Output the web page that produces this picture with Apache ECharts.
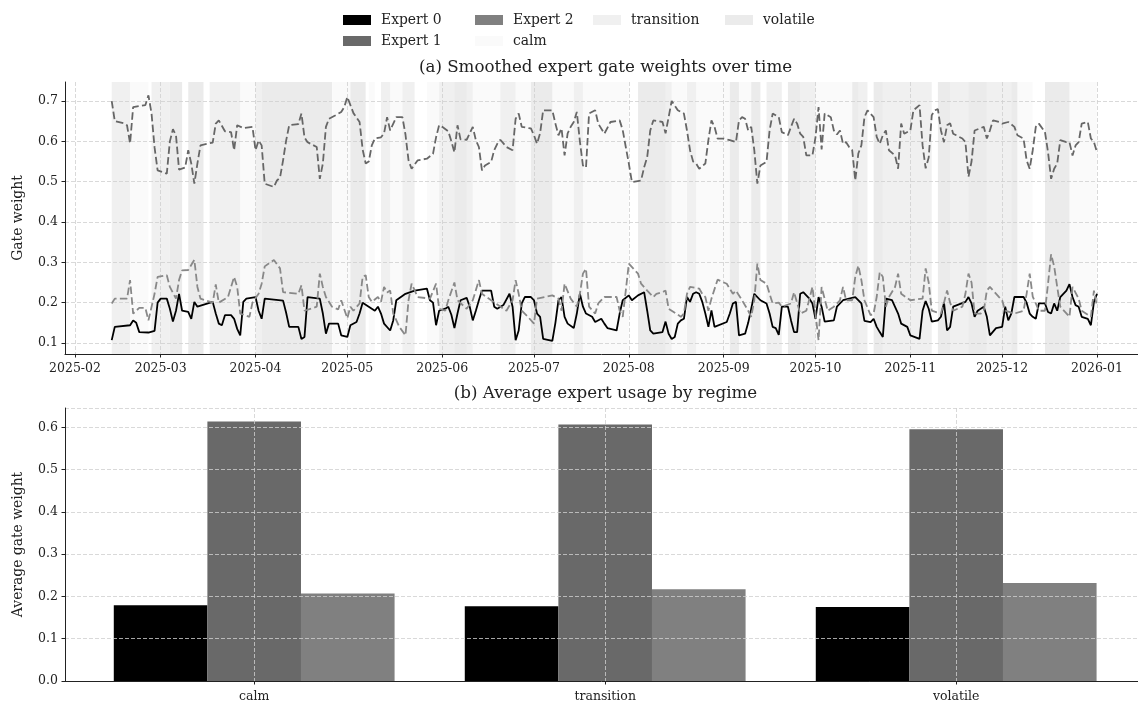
<!DOCTYPE html>
<html><head><meta charset="utf-8">
<script src="https://cdn.jsdelivr.net/npm/echarts@6/dist/echarts.min.js"></script>
<style>html,body{margin:0;padding:0;background:#fff}#c{width:1138px;height:704px}</style>
</head><body><div id="c"></div>
<script>
// ---------- data ----------
const monthTicks = ['2025-02-01','2025-03-01','2025-04-01','2025-05-01','2025-06-01','2025-07-01','2025-08-01','2025-09-01','2025-10-01','2025-11-01','2025-12-01','2026-01-01'];
const gateTicks = [0.1,0.2,0.3,0.4,0.5,0.6,0.7];
const regimes = ['calm','transition','volatile'];
const experts = ['Expert 0','Expert 1','Expert 2'];

// average usage per regime (calm, transition, volatile)
const usageE0 = [0.179, 0.177, 0.175];
const usageE1 = [0.614, 0.607, 0.596];
const usageE2 = [0.207, 0.217, 0.232];

// smoothed gate weights (MM-DD in 2025, 01-01 is 2026)
const e0 = [['02-13',0.107],['02-14',0.14],['02-19',0.144],['02-20',0.156],['02-21',0.15],['02-22',0.127],['02-25',0.126],['02-27',0.13],['02-28',0.20],['03-01',0.21],['03-03',0.21],['03-04',0.185],['03-05',0.153],['03-06',0.18],['03-07',0.222],['03-08',0.18],['03-10',0.177],['03-11',0.16],['03-12',0.202],['03-13',0.19],['03-18',0.202],['03-19',0.173],['03-20',0.148],['03-21',0.144],['03-22',0.169],['03-24',0.169],['03-25',0.16],['03-26',0.135],['03-27',0.119],['03-28',0.202],['03-29',0.21],['04-01',0.214],['04-02',0.18],['04-03',0.16],['04-04',0.21],['04-10',0.205],['04-11',0.175],['04-12',0.14],['04-15',0.14],['04-16',0.11],['04-17',0.115],['04-18',0.214],['04-22',0.21],['04-23',0.173],['04-24',0.123],['04-25',0.148],['04-28',0.148],['04-29',0.119],['05-01',0.115],['05-02',0.144],['05-04',0.152],['05-05',0.173],['05-06',0.2],['05-08',0.19],['05-10',0.18],['05-11',0.19],['05-12',0.173],['05-13',0.148],['05-15',0.131],['05-16',0.156],['05-17',0.206],['05-20',0.222],['05-23',0.23],['05-27',0.235],['05-28',0.206],['05-29',0.2],['05-30',0.144],['05-31',0.18],['06-02',0.185],['06-03',0.19],['06-04',0.17],['06-05',0.137],['06-06',0.173],['06-07',0.206],['06-09',0.212],['06-10',0.19],['06-11',0.156],['06-12',0.18],['06-13',0.206],['06-14',0.23],['06-17',0.23],['06-18',0.19],['06-19',0.185],['06-21',0.194],['06-23',0.222],['06-24',0.19],['06-25',0.107],['06-26',0.131],['06-27',0.198],['06-28',0.214],['06-30',0.214],['07-01',0.206],['07-02',0.173],['07-03',0.165],['07-04',0.11],['07-07',0.105],['07-08',0.15],['07-09',0.206],['07-10',0.214],['07-11',0.165],['07-12',0.148],['07-14',0.137],['07-15',0.173],['07-16',0.222],['07-17',0.19],['07-18',0.173],['07-20',0.165],['07-21',0.152],['07-23',0.16],['07-24',0.148],['07-25',0.137],['07-28',0.131],['07-29',0.173],['07-30',0.206],['08-01',0.218],['08-02',0.206],['08-04',0.218],['08-06',0.226],['08-07',0.18],['08-08',0.131],['08-09',0.123],['08-12',0.127],['08-13',0.153],['08-14',0.123],['08-15',0.11],['08-16',0.115],['08-17',0.148],['08-18',0.156],['08-19',0.16],['08-20',0.214],['08-21',0.202],['08-22',0.222],['08-23',0.226],['08-24',0.222],['08-25',0.202],['08-26',0.173],['08-27',0.14],['08-28',0.181],['08-29',0.14],['09-02',0.152],['09-03',0.173],['09-04',0.198],['09-05',0.202],['09-06',0.119],['09-08',0.123],['09-09',0.15],['09-10',0.185],['09-11',0.222],['09-13',0.206],['09-15',0.198],['09-16',0.173],['09-17',0.14],['09-18',0.137],['09-19',0.12],['09-20',0.19],['09-22',0.19],['09-23',0.156],['09-24',0.127],['09-25',0.127],['09-26',0.222],['09-27',0.226],['09-28',0.218],['09-29',0.21],['09-30',0.198],['10-01',0.16],['10-02',0.214],['10-03',0.19],['10-04',0.153],['10-07',0.156],['10-08',0.19],['10-10',0.206],['10-14',0.214],['10-16',0.198],['10-17',0.155],['10-19',0.152],['10-20',0.16],['10-21',0.14],['10-22',0.127],['10-23',0.115],['10-24',0.21],['10-26',0.206],['10-28',0.173],['10-29',0.148],['10-31',0.14],['11-01',0.119],['11-04',0.11],['11-05',0.18],['11-06',0.204],['11-07',0.185],['11-08',0.153],['11-10',0.156],['11-11',0.165],['11-12',0.2],['11-13',0.131],['11-14',0.14],['11-15',0.19],['11-19',0.202],['11-20',0.214],['11-21',0.198],['11-22',0.165],['11-23',0.18],['11-25',0.19],['11-26',0.165],['11-27',0.119],['11-29',0.137],['12-01',0.14],['12-02',0.19],['12-03',0.156],['12-04',0.173],['12-05',0.214],['12-08',0.214],['12-09',0.2],['12-10',0.173],['12-11',0.165],['12-12',0.16],['12-13',0.198],['12-15',0.198],['12-16',0.177],['12-17',0.173],['12-18',0.198],['12-19',0.18],['12-20',0.214],['12-21',0.222],['12-22',0.23],['12-23',0.246],['12-24',0.214],['12-25',0.194],['12-26',0.19],['12-27',0.165],['12-29',0.16],['12-30',0.144],['12-31',0.202],['01-01',0.222]];

const e1 = [['02-13',0.70],['02-14',0.65],['02-17',0.645],['02-18',0.64],['02-19',0.595],['02-20',0.685],['02-24',0.69],['02-25',0.714],['02-26',0.67],['02-27',0.585],['02-28',0.528],['03-03',0.52],['03-04',0.60],['03-05',0.63],['03-06',0.615],['03-07',0.53],['03-09',0.535],['03-10',0.578],['03-11',0.545],['03-12',0.495],['03-13',0.545],['03-14',0.59],['03-18',0.597],['03-19',0.644],['03-20',0.652],['03-22',0.625],['03-24',0.623],['03-25',0.578],['03-26',0.64],['03-28',0.633],['03-31',0.636],['04-01',0.578],['04-02',0.602],['04-03',0.59],['04-04',0.495],['04-07',0.487],['04-08',0.503],['04-09',0.51],['04-10',0.553],['04-11',0.602],['04-12',0.64],['04-15',0.643],['04-16',0.669],['04-17',0.61],['04-18',0.598],['04-21',0.586],['04-22',0.507],['04-23',0.545],['04-24',0.636],['04-25',0.656],['04-27',0.664],['04-29',0.673],['04-30',0.685],['05-01',0.71],['05-03',0.67],['05-05',0.648],['05-06',0.58],['05-07',0.545],['05-08',0.55],['05-09',0.59],['05-10',0.607],['05-12',0.61],['05-13',0.62],['05-14',0.66],['05-15',0.627],['05-17',0.66],['05-19',0.66],['05-20',0.617],['05-21',0.553],['05-22',0.532],['05-24',0.553],['05-27',0.557],['05-29',0.569],['05-30',0.61],['05-31',0.64],['06-01',0.636],['06-03',0.625],['06-04',0.60],['06-05',0.573],['06-06',0.64],['06-07',0.605],['06-09',0.604],['06-11',0.636],['06-12',0.603],['06-13',0.586],['06-14',0.528],['06-15',0.54],['06-17',0.549],['06-18',0.578],['06-19',0.594],['06-20',0.604],['06-22',0.586],['06-24',0.578],['06-25',0.656],['06-26',0.669],['06-27',0.636],['06-30',0.632],['07-01',0.615],['07-02',0.594],['07-03',0.62],['07-04',0.677],['07-07',0.677],['07-08',0.644],['07-09',0.615],['07-10',0.632],['07-11',0.565],['07-12',0.62],['07-13',0.636],['07-14',0.648],['07-15',0.673],['07-16',0.60],['07-17',0.54],['07-18',0.535],['07-19',0.669],['07-21',0.677],['07-22',0.644],['07-24',0.619],['07-26',0.648],['07-29',0.652],['07-30',0.628],['07-31',0.586],['08-01',0.545],['08-02',0.499],['08-05',0.503],['08-06',0.536],['08-07',0.561],['08-08',0.627],['08-09',0.652],['08-12',0.648],['08-13',0.62],['08-14',0.66],['08-15',0.70],['08-17',0.677],['08-19',0.669],['08-20',0.627],['08-21',0.578],['08-22',0.55],['08-23',0.545],['08-24',0.532],['08-26',0.545],['08-27',0.603],['08-28',0.652],['08-29',0.636],['08-30',0.607],['09-01',0.607],['09-03',0.603],['09-05',0.598],['09-06',0.652],['09-07',0.66],['09-08',0.656],['09-09',0.627],['09-10',0.636],['09-11',0.578],['09-12',0.495],['09-13',0.54],['09-15',0.549],['09-16',0.627],['09-17',0.669],['09-19',0.66],['09-20',0.623],['09-22',0.615],['09-23',0.636],['09-24',0.656],['09-25',0.644],['09-26',0.619],['09-27',0.611],['09-28',0.565],['09-30',0.565],['10-01',0.61],['10-02',0.685],['10-03',0.58],['10-04',0.669],['10-06',0.66],['10-07',0.627],['10-08',0.617],['10-09',0.627],['10-10',0.594],['10-11',0.598],['10-12',0.586],['10-13',0.578],['10-14',0.503],['10-15',0.57],['10-16',0.59],['10-17',0.66],['10-18',0.677],['10-20',0.66],['10-21',0.611],['10-22',0.594],['10-23',0.615],['10-24',0.627],['10-25',0.578],['10-27',0.565],['10-28',0.532],['10-29',0.644],['10-30',0.619],['11-01',0.627],['11-02',0.677],['11-04',0.69],['11-05',0.59],['11-06',0.533],['11-07',0.56],['11-08',0.665],['11-09',0.677],['11-10',0.68],['11-11',0.627],['11-12',0.598],['11-13',0.64],['11-14',0.645],['11-15',0.619],['11-16',0.615],['11-18',0.607],['11-19',0.598],['11-20',0.512],['11-21',0.55],['11-22',0.627],['11-25',0.636],['11-26',0.607],['11-27',0.627],['11-28',0.652],['11-30',0.648],['12-01',0.644],['12-03',0.648],['12-05',0.636],['12-06',0.615],['12-08',0.607],['12-09',0.553],['12-10',0.532],['12-11',0.578],['12-12',0.636],['12-13',0.644],['12-15',0.623],['12-16',0.573],['12-17',0.507],['12-18',0.532],['12-19',0.545],['12-20',0.603],['12-22',0.598],['12-23',0.598],['12-24',0.565],['12-25',0.59],['12-26',0.598],['12-27',0.644],['12-29',0.648],['12-30',0.607],['12-31',0.598],['01-01',0.573]];

const e2 = [['02-13',0.198],['02-14',0.21],['02-18',0.21],['02-19',0.256],['02-20',0.173],['02-22',0.187],['02-24',0.187],['02-25',0.156],['02-27',0.222],['02-28',0.264],['03-03',0.268],['03-04',0.239],['03-06',0.21],['03-07',0.256],['03-08',0.28],['03-10',0.281],['03-12',0.306],['03-13',0.239],['03-14',0.21],['03-18',0.2],['03-19',0.245],['03-20',0.2],['03-23',0.214],['03-25',0.264],['03-26',0.239],['03-27',0.173],['03-30',0.165],['03-31',0.2],['04-02',0.222],['04-03',0.247],['04-04',0.29],['04-07',0.306],['04-09',0.285],['04-10',0.226],['04-15',0.222],['04-16',0.243],['04-17',0.18],['04-21',0.19],['04-22',0.272],['04-23',0.239],['04-24',0.214],['04-26',0.19],['04-28',0.183],['04-29',0.206],['05-01',0.161],['05-02',0.19],['05-03',0.18],['05-05',0.198],['05-06',0.264],['05-07',0.268],['05-08',0.214],['05-09',0.202],['05-11',0.214],['05-12',0.202],['05-13',0.239],['05-14',0.225],['05-15',0.23],['05-16',0.173],['05-18',0.14],['05-20',0.119],['05-21',0.206],['05-22',0.247],['05-24',0.214],['05-28',0.21],['05-30',0.247],['05-31',0.185],['06-02',0.18],['06-03',0.206],['06-05',0.25],['06-06',0.206],['06-09',0.185],['06-11',0.206],['06-13',0.256],['06-14',0.222],['06-17',0.206],['06-22',0.18],['06-24',0.206],['06-25',0.256],['06-26',0.222],['06-27',0.18],['06-29',0.165],['07-01',0.148],['07-02',0.21],['07-07',0.218],['07-09',0.21],['07-10',0.18],['07-11',0.247],['07-13',0.21],['07-15',0.19],['07-16',0.222],['07-17',0.272],['07-18',0.284],['07-19',0.19],['07-21',0.173],['07-22',0.198],['07-24',0.214],['07-28',0.214],['07-29',0.18],['07-30',0.165],['07-31',0.23],['08-01',0.297],['08-03',0.28],['08-04',0.272],['08-05',0.247],['08-07',0.23],['08-09',0.214],['08-10',0.222],['08-12',0.226],['08-13',0.23],['08-14',0.185],['08-17',0.17],['08-18',0.165],['08-19',0.173],['08-20',0.222],['08-21',0.239],['08-24',0.235],['08-25',0.222],['08-26',0.214],['08-27',0.18],['08-28',0.21],['08-30',0.257],['09-02',0.247],['09-04',0.222],['09-05',0.23],['09-07',0.206],['09-09',0.18],['09-10',0.165],['09-11',0.206],['09-12',0.297],['09-13',0.256],['09-15',0.247],['09-16',0.222],['09-17',0.198],['09-19',0.2],['09-20',0.19],['09-23',0.198],['09-24',0.226],['09-26',0.173],['09-28',0.18],['09-30',0.239],['10-01',0.173],['10-02',0.107],['10-03',0.239],['10-05',0.18],['10-07',0.19],['10-09',0.206],['10-10',0.239],['10-11',0.206],['10-13',0.206],['10-14',0.264],['10-15',0.292],['10-16',0.256],['10-17',0.206],['10-19',0.169],['10-20',0.173],['10-21',0.214],['10-22',0.276],['10-23',0.264],['10-24',0.19],['10-25',0.214],['10-27',0.239],['10-28',0.272],['10-29',0.222],['11-01',0.206],['11-05',0.21],['11-06',0.285],['11-07',0.25],['11-08',0.18],['11-11',0.173],['11-12',0.2],['11-13',0.23],['11-14',0.2],['11-15',0.18],['11-18',0.19],['11-19',0.222],['11-20',0.272],['11-21',0.25],['11-22',0.173],['11-24',0.173],['11-25',0.18],['11-26',0.23],['11-27',0.239],['11-30',0.214],['12-01',0.206],['12-02',0.18],['12-05',0.173],['12-08',0.18],['12-09',0.222],['12-10',0.272],['12-11',0.215],['12-12',0.198],['12-13',0.18],['12-15',0.18],['12-16',0.247],['12-17',0.32],['12-18',0.29],['12-19',0.239],['12-20',0.19],['12-23',0.165],['12-24',0.239],['12-26',0.21],['12-27',0.18],['12-30',0.165],['12-31',0.23],['01-01',0.19]];

// regime runs
const runStart = ['02-13','02-19','02-26','03-04','03-10','03-17','03-27','04-01','04-03','04-26','05-02','05-08','05-12','05-15','05-19','05-27','05-31','06-05','06-09','06-11','06-20','06-25','06-30','07-07','07-14','07-17','08-04','08-13','08-15','08-20','08-23','09-03','09-06','09-10','09-15','09-22','09-26','10-01','10-13','10-15','10-20','10-23','11-10','11-14','11-20','11-26','12-04','12-06','12-15','12-23'];
const runEnd = ['02-19','02-25','03-04','03-08','03-15','03-27','04-01','04-03','04-26','05-02','05-07','05-10','05-15','05-19','05-23','05-31','06-05','06-09','06-11','06-20','06-25','06-30','07-07','07-14','07-17','08-01','08-13','08-15','08-20','08-23','09-03','09-06','09-10','09-13','09-20','09-26','10-01','10-13','10-15','10-18','10-23','11-08','11-14','11-20','11-26','12-04','12-06','12-11','12-23','01-01'];
const runRegime = ['transition','calm','transition','volatile','volatile','transition','calm','transition','volatile','calm','volatile','calm','transition','calm','transition','calm','transition','volatile','transition','calm','transition','calm','volatile','calm','transition','calm','volatile','transition','calm','transition','calm','volatile','calm','volatile','transition','volatile','transition','calm','volatile','transition','volatile','transition','volatile','transition','volatile','transition','volatile','calm','volatile','calm'];

// ---------- styling ----------
const FONT = 'DejaVu Serif';
const TXT = '#222';
const DAY = 86400000;
const tt = s => { const f = s.length === 5 ? (s.startsWith('01-') ? '2026-' : '2025-') + s : s; const p = f.split('-').map(Number); return Date.UTC(p[0], p[1]-1, p[2]); };
const expertColor = ['#000000', '#666666', '#888888'];
const barColor = ['#000000', '#696969', '#808080'];
const regimeFill = {calm:'rgba(0,0,0,0.02)', transition:'rgba(0,0,0,0.06)', volatile:'rgba(0,0,0,0.08)'};
const regimeSwatch = {calm:'#fafafa', transition:'#f0f0f0', volatile:'#ebebeb'};
const gridLine = {show:true, lineStyle:{type:[4,2], color:'#cfcfcf', width:0.8}};
const axLine = {show:true, onZero:false, lineStyle:{color:TXT, width:1}};
const axTick = vals => ({show:true, length:3.5, customValues: vals, lineStyle:{color:TXT, width:1}});
const lab = {fontFamily:FONT, fontSize:12.5, color:TXT};

const legendItem = n => ({name:n, icon:'rect', itemStyle:{color: n in regimeSwatch ? regimeSwatch[n] : barColor[experts.indexOf(n)], borderWidth:0}});
const legendCommon = {orient:'vertical', top:13, padding:0, itemWidth:28, itemHeight:10, itemGap:7, selectedMode:false,
  textStyle:{fontFamily:FONT, fontSize:13.9, color:TXT, lineHeight:14, padding:[0,0,0,5]}};

const lines = [e0, e1, e2];
const series = [];
experts.forEach((n, i) => {
  const vals = [usageE0, usageE1, usageE2][i];
  series.push({name:n, type:'bar', xAxisIndex:1, yAxisIndex:1, barWidth:'26.667%', barGap:'0%', z:2,
    itemStyle:{color:barColor[i]}, data: vals.map((v, k) => [k, v])});
});
regimes.forEach(r => {
  series.push({name:r, type:'line', xAxisIndex:0, yAxisIndex:0, data:[], color:regimeSwatch[r], z:1,
    markArea:{silent:true, label:{show:false}, itemStyle:{color:regimeFill[r], borderWidth:0},
      data: runRegime.map((g, k) => g === r ? [{xAxis: tt(runStart[k])}, {xAxis: tt(runEnd[k])}] : null).filter(Boolean)}});
});
experts.forEach((n, i) => {
  series.push({name:n, type:'line', xAxisIndex:0, yAxisIndex:0, showSymbol:false, symbol:'none', z:5,
    color: expertColor[i],
    lineStyle: i === 0 ? {color:expertColor[i], width:1.8} : {color:expertColor[i], width:1.8, type:[7.5,3.3]},
    data: lines[i].map(([d, v]) => [tt(d), v])});
});

const monthVals = monthTicks.map(tt);
const fmtMonth = v => { const d = new Date(v); return d.getUTCFullYear() + '-' + String(d.getUTCMonth()+1).padStart(2,'0'); };

const option = {
  animation:false,
  backgroundColor:'#ffffff',
  textStyle:{fontFamily:FONT},
  title:[
    {text:'(a) Smoothed expert gate weights over time', left:605.5, top:59, textAlign:'center', padding:0,
      textStyle:{fontFamily:FONT, fontSize:16.7, fontWeight:'normal', color:TXT}},
    {text:'(b) Average expert usage by regime', left:605.5, top:385, textAlign:'center', padding:0,
      textStyle:{fontFamily:FONT, fontSize:16.7, fontWeight:'normal', color:TXT}}
  ],
  legend:[
    Object.assign({left:343, data:['Expert 0','Expert 1'].map(legendItem)}, legendCommon),
    Object.assign({left:475, data:['Expert 2','calm'].map(legendItem)}, legendCommon),
    Object.assign({left:593, data:['transition'].map(legendItem)}, legendCommon),
    Object.assign({left:725, data:['volatile'].map(legendItem)}, legendCommon)
  ],
  grid:[
    {left:65, right:0, top:82, height:272},
    {left:65, right:0, top:408, height:273}
  ],
  xAxis:[
    {gridIndex:0, type:'value', z:3, min: tt('2025-02-01') - 3.27*DAY, max: tt('2026-01-01') + 13.4*DAY,
      axisLine:axLine, axisTick:axTick(monthVals), splitLine:gridLine,
      axisLabel:Object.assign({customValues:monthVals, formatter:fmtMonth, margin:8, hideOverlap:false}, lab)},
    {gridIndex:1, type:'value', z:3, min:-0.539, max:2.518,
      axisLine:axLine, axisTick:axTick([0,1,2]), splitLine:gridLine,
      axisLabel:Object.assign({customValues:[0,1,2], formatter:v => regimes[Math.round(v)], margin:9}, lab)}
  ],
  yAxis:[
    {gridIndex:0, type:'value', z:3, min:0.0727, max:0.7472,
      axisLine:axLine, axisTick:axTick(gateTicks), splitLine:gridLine,
      axisLabel:Object.assign({customValues:gateTicks, formatter:v => v.toFixed(1), margin:7}, lab),
      name:'Gate weight', nameLocation:'middle', nameGap:40,
      nameTextStyle:{fontFamily:FONT, fontSize:13.9, color:TXT}},
    {gridIndex:1, type:'value', z:3, min:0, max:0.646, interval:0.1,
      axisLine:axLine, axisTick:{show:true, length:3.5, lineStyle:{color:TXT}}, splitLine:gridLine,
      axisLabel:Object.assign({formatter:v => v.toFixed(1), margin:7, showMaxLabel:false}, lab),
      name:'Average gate weight', nameLocation:'middle', nameGap:40,
      nameTextStyle:{fontFamily:FONT, fontSize:13.9, color:TXT}}
  ],
  series: series
};
const chart = echarts.init(document.getElementById('c'), null, {renderer:'canvas'});
chart.setOption(option);
</script>
</body></html>
